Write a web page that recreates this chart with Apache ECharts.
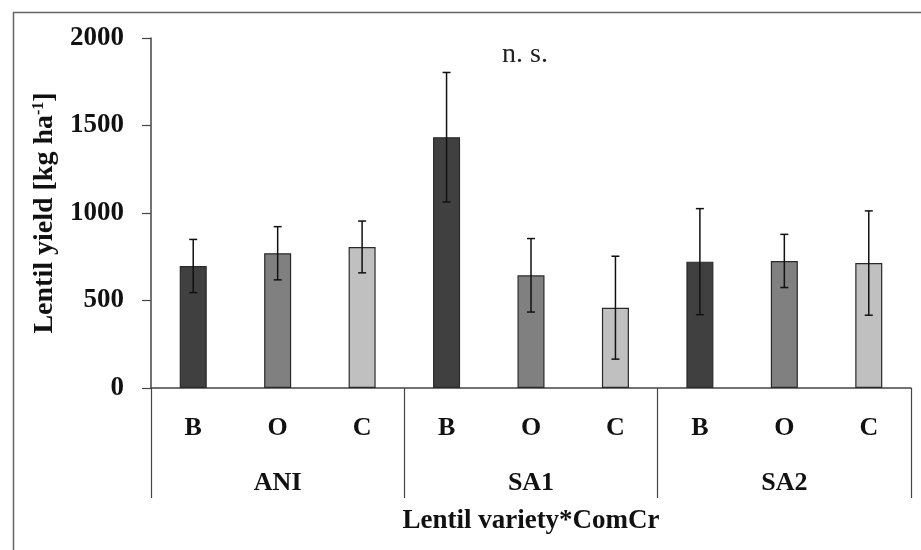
<!DOCTYPE html>
<html><head><meta charset="utf-8">
<script src="https://cdn.jsdelivr.net/npm/echarts@6/dist/echarts.min.js"></script>
<style>html,body{margin:0;padding:0;background:#fff}#c{width:921px;height:550px}</style>
</head><body><div id="c"></div>
<script>
const categories = ['B','O','C','B','O','C','B','O','C'];
const groups = ['ANI','SA1','SA2'];
const yieldMean = [697, 770, 806, 1433, 644, 459, 722, 726, 714];
const yieldErr = [152, 152, 148, 370, 210, 294, 303, 152, 298];
const barColors = ['#404040','#808080','#c0c0c0','#404040','#808080','#c0c0c0','#404040','#808080','#c0c0c0'];
const yTicks = [0, 500, 1000, 1500, 2000];

const FONT = 'Liberation Serif';
const chart = echarts.init(document.getElementById('c'));
chart.setOption({
  animation: false,
  grid: {left: 151, right: 10, top: 38, bottom: 162},
  graphic: [
    {type:'rect', shape:{x:13.5, y:12.5, width:930, height:560}, style:{fill:'none', stroke:'#666', lineWidth:1.5}, silent:true},
    {type:'text', left: 502, top: 41, style:{text:'n. s.', font:'28px "'+FONT+'"', fill:'#222'}}
  ],
  xAxis: [
    {type:'category', data: categories, position:'bottom',
     axisLine:{show:true, lineStyle:{color:'#444', width:1.5}},
     axisTick:{show:false},
     axisLabel:{margin: 27, fontFamily:FONT, fontWeight:'bold', fontSize:26, color:'#111'},
     name:'Lentil variety*ComCr', nameLocation:'middle', nameGap: 120,
     nameTextStyle:{fontFamily:FONT, fontWeight:'bold', fontSize:27, color:'#111'}
    },
    {type:'category', data: groups, position:'bottom',
     axisLine:{show:false},
     axisTick:{show:true, length:110, inside:false, lineStyle:{color:'#444', width:1.2}},
     axisLabel:{margin: 82, fontFamily:FONT, fontWeight:'bold', fontSize:26, color:'#111'}
    }
  ],
  yAxis: {type:'value', min: yTicks[0], max: yTicks[yTicks.length-1], interval: 500,
    splitLine:{show:false},
    axisLine:{show:true, lineStyle:{color:'#444', width:1.5}},
    axisTick:{show:true, length:9, lineStyle:{color:'#444', width:1.2}},
    axisLabel:{margin: 27, fontFamily:FONT, fontWeight:'bold', fontSize:27, color:'#111', formatter: v => String(v)},
    name:'Lentil yield [kg ha{sup|-1}]', nameLocation:'middle', nameGap: 92,
    nameTextStyle:{fontFamily:FONT, fontWeight:'bold', fontSize:28, color:'#111',
      rich:{sup:{fontFamily:FONT, fontWeight:'bold', fontSize:16, color:'#111', verticalAlign:'top', padding:[0,0,12,0]}}}
  },
  series: [
    {type:'bar', xAxisIndex:0, barWidth:'32%',
     data: yieldMean.map((v,i)=>({value:v, itemStyle:{color:barColors[i]}})),
     itemStyle:{borderColor:'#2a2a2a', borderWidth:1.2}},
    {type:'custom', xAxisIndex:0, z:10,
     data: yieldMean.map((v,i)=>[i, v - yieldErr[i], v + yieldErr[i]]),
     renderItem: function(params, api){
       const lo = api.coord([api.value(0), api.value(1)]);
       const hi = api.coord([api.value(0), api.value(2)]);
       const x = lo[0], w = 4;
       const st = {stroke:'#111', lineWidth:1.5};
       return {type:'group', children:[
         {type:'line', shape:{x1:x, y1:lo[1], x2:x, y2:hi[1]}, style:st},
         {type:'line', shape:{x1:x-w, y1:lo[1], x2:x+w, y2:lo[1]}, style:st},
         {type:'line', shape:{x1:x-w, y1:hi[1], x2:x+w, y2:hi[1]}, style:st}
       ]};
     }}
  ]
});
</script></body></html>
